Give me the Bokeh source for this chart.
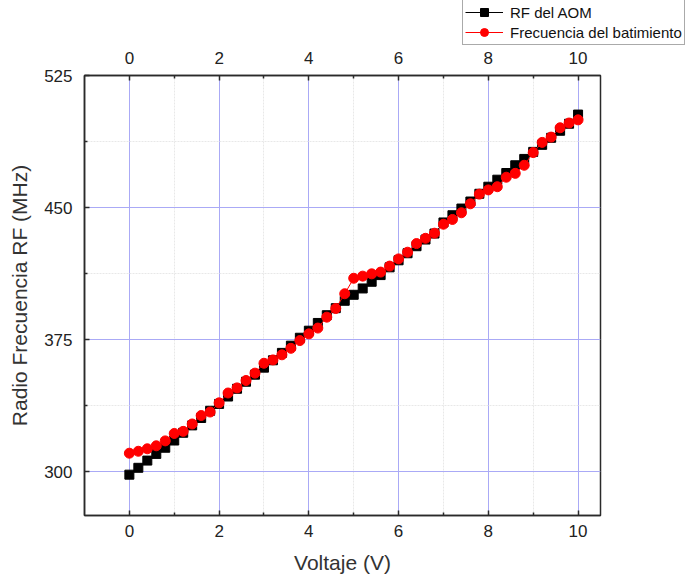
from bokeh.plotting import figure
from bokeh.layouts import column, row
from bokeh.models import (LinearAxis, FixedTicker, Range1d, Legend, LegendItem)
from bokeh.embed import file_html
from bokeh.resources import INLINE

# Voltage sweep (V)
voltaje = [0.0, 0.2, 0.4, 0.6, 0.8, 1.0, 1.2, 1.4, 1.6, 1.8,
           2.0, 2.2, 2.4, 2.6, 2.8, 3.0, 3.2, 3.4, 3.6, 3.8,
           4.0, 4.2, 4.4, 4.6, 4.8, 5.0, 5.2, 5.4, 5.6, 5.8,
           6.0, 6.2, 6.4, 6.6, 6.8, 7.0, 7.2, 7.4, 7.6, 7.8,
           8.0, 8.2, 8.4, 8.6, 8.8, 9.0, 9.2, 9.4, 9.6, 9.8, 10.0]

# RF applied to the AOM (MHz)
rf_aom = [298.2, 302.1, 306.2, 310.0, 313.5, 317.6, 322.0, 326.2, 330.4, 334.5,
          338.4, 342.6, 347.0, 351.0, 355.0, 359.0, 363.2, 367.4, 371.5, 376.0,
          380.0, 384.4, 388.8, 392.8, 397.0, 400.4, 404.0, 407.8, 411.6, 416.0,
          420.0, 424.0, 428.0, 431.8, 435.2, 441.5, 445.6, 449.4, 453.4, 457.8,
          461.8, 465.8, 469.6, 474.0, 477.6, 481.6, 485.6, 489.6, 493.6, 497.6, 502.8]

# Measured beat frequency (MHz)
batimiento = [310.4, 311.5, 312.9, 314.6, 317.4, 321.6, 322.8, 327.0, 331.8, 333.8,
              339.0, 344.6, 347.5, 351.7, 355.9, 361.5, 363.4, 366.3, 370.0, 374.4,
              378.2, 381.5, 387.7, 392.6, 401.0, 409.8, 411.0, 412.3, 413.3, 416.7,
              420.8, 424.6, 429.5, 432.5, 435.4, 440.5, 443.2, 447.0, 452.1, 457.6,
              460.0, 461.8, 467.2, 469.4, 474.0, 481.2, 487.0, 490.0, 495.3, 498.0, 499.8]

series_labels = ["RF del AOM", "Frecuencia del batimiento"]

x_ticks = [0, 2, 4, 6, 8, 10]
x_minor = [1, 3, 5, 7, 9]
y_ticks = [300, 375, 450, 525]
y_minor = [337.5, 412.5, 487.5]

FONT = "Liberation Sans"
LEGEND_H = 45
AXIS_COLOR = "#2a2a2a"


def add_series(fig):
    l1 = fig.line(voltaje, rf_aom, line_color="black", line_width=1)
    s1 = fig.scatter(voltaje, rf_aom, marker="square", size=9,
                     fill_color="black", line_color="black")
    l2 = fig.line(voltaje, batimiento, line_color="red", line_width=1)
    s2 = fig.scatter(voltaje, batimiento, marker="circle", size=10,
                     fill_color="red", line_color="red")
    return (l1, s1), (l2, s2)


# ---- main plot ----
p = figure(width=692, height=581 - LEGEND_H, output_backend="svg",
           toolbar_location=None,
           x_range=Range1d(-1, 10.5), y_range=Range1d(275, 525),
           x_axis_location=None, y_axis_location=None,
           min_border_left=84, min_border_right=92,
           min_border_top=75 - LEGEND_H, min_border_bottom=66)
p.outline_line_color = AXIS_COLOR
p.outline_line_width = 1.5
p.background_fill_color = "white"
p.border_fill_color = "white"

xt = FixedTicker(ticks=x_ticks, minor_ticks=x_minor)
yt = FixedTicker(ticks=y_ticks, minor_ticks=y_minor)


def style_axis(ax, standoff):
    ax.axis_line_color = AXIS_COLOR
    ax.axis_line_width = 1.5
    ax.major_tick_line_color = AXIS_COLOR
    ax.minor_tick_line_color = AXIS_COLOR
    ax.major_tick_line_width = 1.5
    ax.minor_tick_line_width = 1.5
    ax.major_tick_in = 5
    ax.major_tick_out = 0
    ax.minor_tick_in = 3
    ax.minor_tick_out = 0
    ax.major_label_text_font = FONT
    ax.major_label_text_font_size = "17px"
    ax.major_label_text_color = "#222222"
    ax.major_label_standoff = standoff
    ax.axis_label_text_font = FONT
    ax.axis_label_text_font_size = "21px"
    ax.axis_label_text_font_style = "normal"
    ax.axis_label_text_color = "#333333"


xb = LinearAxis(ticker=xt, axis_label="Voltaje (V)")
style_axis(xb, 9)
xb.axis_label_standoff = 11
p.add_layout(xb, "below")

xa = LinearAxis(ticker=xt)
style_axis(xa, 12)
p.add_layout(xa, "above")

yl = LinearAxis(ticker=yt, axis_label="Radio Frecuencia RF (MHz)")
style_axis(yl, 12)
yl.axis_label_standoff = 10
p.add_layout(yl, "left")

p.xgrid.ticker = xt
p.ygrid.ticker = yt
for g in (p.xgrid, p.ygrid):
    g.grid_line_color = "#aaaaf6"
    g.grid_line_width = 1
    g.minor_grid_line_color = "#e8e8e8"
    g.minor_grid_line_width = 1
    g.minor_grid_line_dash = "2 1"

add_series(p)

# ---- legend strip above the plot ----
leg = figure(width=692, height=LEGEND_H, frame_width=692, frame_height=LEGEND_H,
             output_backend="svg", toolbar_location=None,
             x_range=Range1d(0, 1), y_range=Range1d(0, 1),
             x_axis_location=None, y_axis_location=None,
             min_border_left=0, min_border_right=0,
             min_border_top=0, min_border_bottom=0)
leg.outline_line_color = None
leg.xgrid.visible = False
leg.ygrid.visible = False
leg.background_fill_color = "white"
leg.border_fill_color = "white"
r_aom, r_bat = add_series(leg)

legend = Legend(items=[LegendItem(label=series_labels[0], renderers=list(r_aom)),
                       LegendItem(label=series_labels[1], renderers=list(r_bat))],
                location=(462, 0), orientation="vertical",
                border_line_color="#555555", border_line_width=1,
                background_fill_color="white", background_fill_alpha=1.0,
                padding=2, margin=0, spacing=0,
                glyph_width=38, glyph_height=20, label_height=20,
                label_standoff=7,
                label_text_font=FONT, label_text_font_size="15px",
                label_text_color="#111111")
leg.add_layout(legend, "center")

layout = column(row(leg), p, spacing=0)
open("out.html", "w").write(file_html(layout, INLINE))
